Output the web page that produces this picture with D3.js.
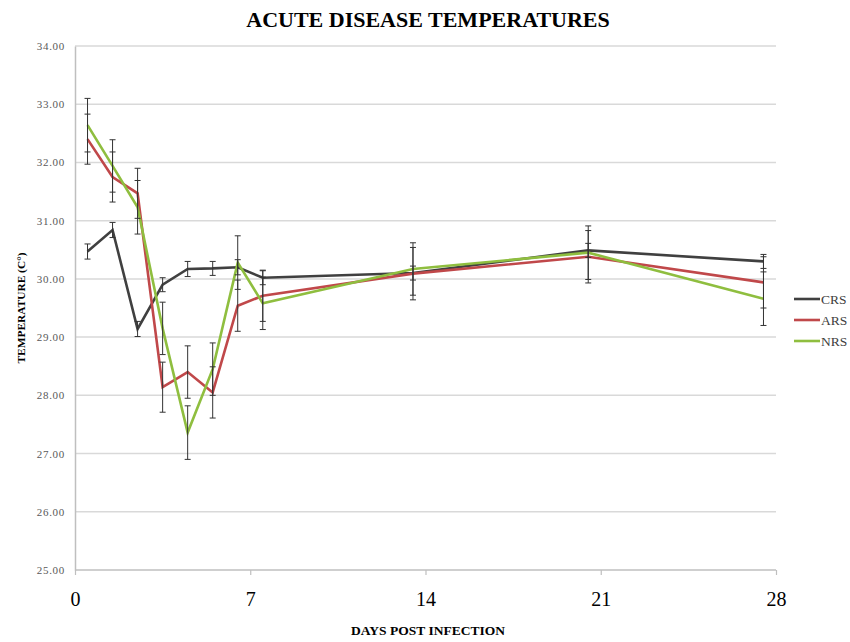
<!DOCTYPE html>
<html>
<head>
<meta charset="utf-8">
<script src="https://cdn.jsdelivr.net/npm/d3@7"></script>
<style>
  html, body { margin: 0; padding: 0; background: #fff; }
  svg { display: block; }
</style>
</head>
<body>
<svg id="chart" width="850" height="642"></svg>
<script>
// ---- data ----
const days   = [0.5, 1.5, 2.5, 3.5, 4.5, 5.5, 6.5, 7.5, 13.5, 20.5, 27.5];
const crs    = [30.47, 30.84, 29.14, 29.90, 30.17, 30.18, 30.20, 30.02, 30.10, 30.49, 30.30];
const crsErr = [0.13, 0.13, 0.13, 0.12, 0.13, 0.12, 0.13, 0.12, 0.12, 0.12, 0.12];
const ars    = [32.40, 31.75, 31.47, 28.14, 28.40, 28.05, 29.54, 29.71, 30.09, 30.38, 29.94];
const arsErr = [0.43, 0.43, 0.43, 0.43, 0.45, 0.44, 0.44, 0.44, 0.45, 0.45, 0.44];
const nrs    = [32.64, 31.94, 31.23, 29.15, 27.36, 28.45, 30.28, 29.58, 30.17, 30.45, 29.66];
const nrsErr = [0.46, 0.45, 0.46, 0.45, 0.46, 0.45, 0.46, 0.45, 0.45, 0.46, 0.46];
const seriesNames = ["CRS", "ARS", "NRS"];
const xTicks = [0, 7, 14, 21, 28];
const yTicks = [25, 26, 27, 28, 29, 30, 31, 32, 33, 34];
const titleText = "ACUTE DISEASE TEMPERATURES";
const xTitle = "DAYS POST INFECTION";
const yTitle = "TEMPERATURE (C°)";

(function () {
const colors = { CRS: "#404040", ARS: "#c0484a", NRS: "#8fbe3f" };
const serif = "'Liberation Serif', 'Times New Roman', serif";

const series = [
  { name: "CRS", values: crs, err: crsErr },
  { name: "ARS", values: ars, err: arsErr },
  { name: "NRS", values: nrs, err: nrsErr }
];

const svg = d3.select("#chart");
const pL = 75, pR = 776, pT = 46, pB = 570;

const x = d3.scaleLinear().domain([0, 28]).range([pL, pR]);
const y = d3.scaleLinear().domain([25, 34]).range([pB, pT]);

// gridlines
svg.append("g")
  .selectAll("line")
  .data(yTicks.filter(v => v > 25))
  .join("line")
  .attr("x1", pL).attr("x2", pR)
  .attr("y1", d => y(d)).attr("y2", d => y(d))
  .attr("stroke", "#d9d9d9").attr("stroke-width", 1.5);

// y axis (labels only + line)
const yAxis = d3.axisLeft(y).tickValues(yTicks).tickSize(0).tickPadding(10)
  .tickFormat(d3.format(".2f"));
const gy = svg.append("g").attr("transform", `translate(${pL},0)`).call(yAxis);
gy.select(".domain").attr("stroke", "#bfbfbf").attr("stroke-width", 1.5);
gy.selectAll("text").attr("font-family", serif).attr("font-size", 11)
  .attr("letter-spacing", 0.7).attr("fill", "#595959");

// x axis
const xAxis = d3.axisBottom(x).tickValues(xTicks).tickSize(5).tickPadding(17)
  .tickFormat(d3.format("d"));
const gx = svg.append("g").attr("transform", `translate(0,${pB})`).call(xAxis);
gx.select(".domain").attr("stroke", "#bfbfbf").attr("stroke-width", 1.5).attr("d", `M${pL},0H${pR}`);
gx.selectAll(".tick line").attr("stroke", "#bfbfbf").attr("stroke-width", 1.2);
gx.selectAll("text").attr("font-family", serif).attr("font-size", 20).attr("fill", "#000");

// lines
const line = d3.line().x((d, i) => x(days[i])).y(d => y(d));
svg.append("g").selectAll("path")
  .data(series)
  .join("path")
  .attr("d", s => line(s.values))
  .attr("fill", "none")
  .attr("stroke", s => colors[s.name])
  .attr("stroke-width", 2.6)
  .attr("stroke-linejoin", "miter");

// error bars
const eb = svg.append("g").attr("stroke", "#333").attr("stroke-width", 1);
series.forEach(s => {
  const pts = s.values.map((v, i) => ({ x: x(days[i]), lo: y(v - s.err[i]), hi: y(v + s.err[i]) }));
  eb.selectAll(null).data(pts).join("line")
    .attr("x1", d => d.x).attr("x2", d => d.x).attr("y1", d => d.lo).attr("y2", d => d.hi);
  eb.selectAll(null).data(pts).join("line")
    .attr("x1", d => d.x - 3).attr("x2", d => d.x + 3).attr("y1", d => d.lo).attr("y2", d => d.lo);
  eb.selectAll(null).data(pts).join("line")
    .attr("x1", d => d.x - 3).attr("x2", d => d.x + 3).attr("y1", d => d.hi).attr("y2", d => d.hi);
});

// title
svg.append("text").attr("x", 428).attr("y", 27).attr("text-anchor", "middle")
  .attr("font-family", serif).attr("font-weight", "bold").attr("font-size", 22)
  .attr("fill", "#000").text(titleText);

// axis titles
svg.append("text").attr("x", 428).attr("y", 635).attr("text-anchor", "middle")
  .attr("font-family", serif).attr("font-weight", "bold").attr("font-size", 13.5)
  .attr("fill", "#000").text(xTitle);
svg.append("text")
  .attr("transform", `translate(25,${(pT + pB) / 2}) rotate(-90)`)
  .attr("text-anchor", "middle")
  .attr("font-family", serif).attr("font-weight", "bold").attr("font-size", 11.4)
  .attr("fill", "#000").text(yTitle);

// legend
const leg = svg.append("g").selectAll("g").data(seriesNames).join("g")
  .attr("transform", (d, i) => `translate(794,${299 + i * 21})`);
leg.append("line").attr("x1", 0).attr("x2", 26).attr("y1", 0).attr("y2", 0)
  .attr("stroke", d => colors[d]).attr("stroke-width", 2.6);
leg.append("text").attr("x", 27).attr("y", 4.5)
  .attr("font-family", serif).attr("font-size", 13.5).attr("fill", "#404040").text(d => d);
})();
</script>
</body>
</html>
